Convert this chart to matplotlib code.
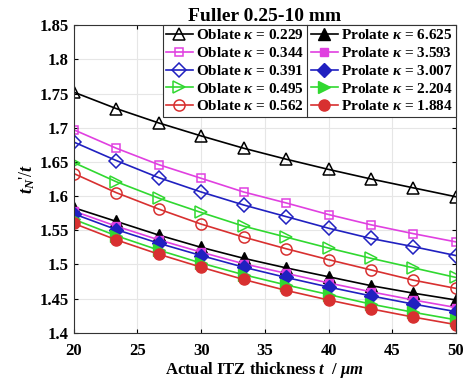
import matplotlib
matplotlib.use("Agg")
import matplotlib.pyplot as plt
import numpy as np

plt.rcParams['font.family'] = ['Liberation Serif', 'DejaVu Serif']
plt.rcParams['font.weight'] = 'bold'
plt.rcParams['mathtext.fontset'] = 'custom'
plt.rcParams['mathtext.rm'] = 'Liberation Serif:bold'
plt.rcParams['mathtext.it'] = 'Liberation Serif:italic:bold'
plt.rcParams['mathtext.bf'] = 'Liberation Serif:bold'

# ITZ thickness (um)
t = np.linspace(20, 50, 10)

oblate_k = ['0.229', '0.344', '0.391', '0.495', '0.562']
prolate_k = ['6.625', '3.593', '3.007', '2.204', '1.884']

oblate = [
    [1.752, 1.728, 1.707, 1.688, 1.670, 1.654, 1.639, 1.625, 1.612, 1.599],
    [1.697, 1.670, 1.646, 1.626, 1.606, 1.590, 1.573, 1.558, 1.545, 1.533],
    [1.679, 1.652, 1.627, 1.606, 1.587, 1.570, 1.553, 1.538, 1.526, 1.513],
    [1.649, 1.621, 1.597, 1.576, 1.556, 1.540, 1.524, 1.509, 1.495, 1.481],
    [1.633, 1.605, 1.581, 1.559, 1.540, 1.523, 1.507, 1.492, 1.477, 1.465],
]
prolate = [
    [1.583, 1.563, 1.543, 1.525, 1.509, 1.495, 1.482, 1.469, 1.458, 1.448],
    [1.578, 1.556, 1.536, 1.518, 1.501, 1.487, 1.473, 1.460, 1.448, 1.437],
    [1.574, 1.551, 1.531, 1.513, 1.496, 1.481, 1.467, 1.454, 1.442, 1.431],
    [1.566, 1.542, 1.521, 1.502, 1.485, 1.470, 1.456, 1.442, 1.430, 1.419],
    [1.560, 1.536, 1.515, 1.496, 1.478, 1.462, 1.448, 1.435, 1.423, 1.412],
]

colors = ['black', '#e040e0', '#2020c0', '#30d830', '#d83030']
markers = ['^', 's', 'D', '>', 'o']
msizes = [8, 6, 7, 8, 8]

fig = plt.figure(figsize=(4.7, 3.87), dpi=100)
ax = fig.add_axes([0.157, 0.14, 0.813, 0.795])

handles = []
for i in range(5):
    h, = ax.plot(t, oblate[i], color=colors[i], lw=1.2, marker=markers[i],
                 ms=msizes[i], mfc='none', mec=colors[i], mew=1.1,
                 label=r'Oblate $\kappa$ = ' + oblate_k[i])
    handles.append(h)
for i in range(5):
    h, = ax.plot(t, prolate[i], color=colors[i], lw=1.2, marker=markers[i],
                 ms=msizes[i], mfc=colors[i], mec=colors[i],
                 label=r'Prolate $\kappa$ = ' + prolate_k[i])
    handles.append(h)

ax.set_xlim(20, 50)
ax.set_ylim(1.4, 1.85)
ax.set_xticks([20, 25, 30, 35, 40, 45, 50])
ax.set_yticks([1.4, 1.45, 1.5, 1.55, 1.6, 1.65, 1.7, 1.75, 1.8, 1.85])
ax.set_yticklabels(['1.4', '1.45', '1.5', '1.55', '1.6', '1.65', '1.7', '1.75', '1.8', '1.85'])
ax.tick_params(labelsize=12, direction='in', length=3, top=True, right=True)
ax.tick_params(axis='x', pad=7)
ax.grid(True, color='#e6e6e6', lw=0.8)
ax.set_axisbelow(True)
for s in ax.spines.values():
    s.set_color('#333333')

ax.set_xlabel(r'Actual ITZ thickness $t$  / $\mu m$', fontsize=12, fontweight='bold', labelpad=1)
ax.set_ylabel(r"$t_N$'/$t$", fontsize=13, labelpad=2)
ax.set_title('Fuller 0.25-10 mm', fontsize=14, fontweight='bold', pad=3)

leg = ax.legend(handles=handles, ncol=2, loc='upper right', fontsize=11,
                frameon=True, fancybox=False, edgecolor='#333333', framealpha=1,
                borderaxespad=0, handlelength=1.8, handletextpad=0.2,
                columnspacing=0.4, labelspacing=0.25, borderpad=0.2)
leg.get_frame().set_linewidth(0.8)

# divider between the oblate and prolate legend columns
fig.canvas.draw()
bb = leg.get_window_extent().transformed(fig.transFigure.inverted())
xmid = bb.x0 + bb.width * 0.494
fig.add_artist(plt.Line2D([xmid, xmid], [bb.y0, bb.y1], color='#333333', lw=0.8))

fig.savefig('out.png', dpi=100)
